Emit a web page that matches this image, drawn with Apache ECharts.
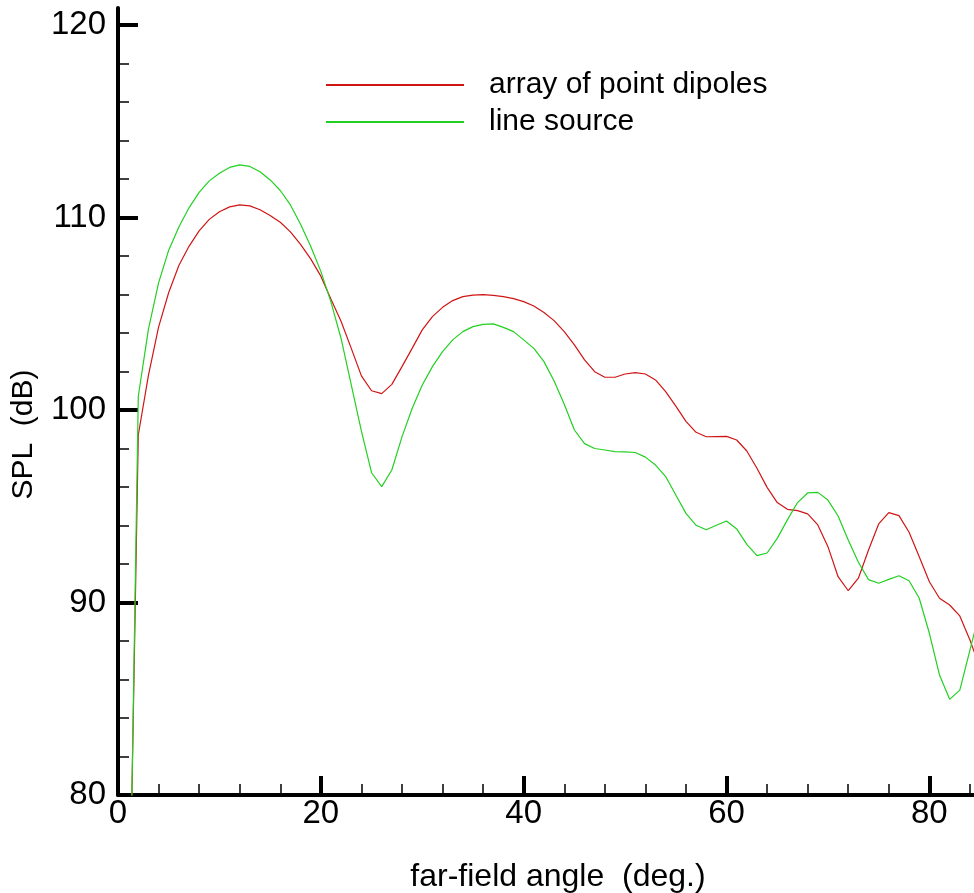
<!DOCTYPE html>
<html>
<head>
<meta charset="utf-8">
<script src="https://cdn.jsdelivr.net/npm/echarts@6.0.0/dist/echarts.min.js"></script>
<style>
  html, body { margin: 0; padding: 0; background: #fff; }
  #chart { width: 974px; height: 893px; }
</style>
</head>
<body>
<div id="chart"></div>
<script>
// far-field angle, one point per degree
const angles = [
  1, 2, 3, 4, 5, 6, 7, 8, 9, 10, 11, 12, 13, 14, 15, 16, 17, 18, 19, 20,
  21, 22, 23, 24, 25, 26, 27, 28, 29, 30, 31, 32, 33, 34, 35, 36, 37, 38, 39, 40,
  41, 42, 43, 44, 45, 46, 47, 48, 49, 50, 51, 52, 53, 54, 55, 56, 57, 58, 59, 60,
  61, 62, 63, 64, 65, 66, 67, 68, 69, 70, 71, 72, 73, 74, 75, 76, 77, 78, 79, 80,
  81, 82, 83, 84, 85
];

const pointDipoles = [
  69.0, 98.7, 101.8, 104.3, 106.1, 107.5, 108.5, 109.3, 109.9, 110.3,
  110.55, 110.65, 110.6, 110.4, 110.1, 109.75, 109.25, 108.6, 107.85, 106.95,
  105.75, 104.6, 103.2, 101.77, 101.0, 100.85, 101.33, 102.25, 103.2, 104.16,
  104.85, 105.33, 105.68, 105.89, 105.97, 105.99, 105.95, 105.89, 105.78, 105.63,
  105.4, 105.06, 104.64, 104.07, 103.38, 102.6, 101.99, 101.7, 101.7, 101.87,
  101.94, 101.87, 101.56, 100.95, 100.2, 99.41, 98.84, 98.61, 98.62, 98.63,
  98.44, 97.87, 96.97, 95.98, 95.19, 94.84, 94.77, 94.6, 94.03, 92.9,
  91.34, 90.61, 91.26, 92.73, 94.08, 94.67, 94.51, 93.65, 92.38, 91.08,
  90.22, 89.87, 89.3, 88.05, 86.6
];

const lineSource = [
  68.0, 100.7, 104.2, 106.6, 108.3, 109.5, 110.5, 111.3, 111.9, 112.3,
  112.6, 112.73, 112.65, 112.37, 111.95, 111.4, 110.65, 109.65, 108.5, 107.2,
  105.6, 103.7, 101.3, 98.9, 96.74, 96.02, 96.88, 98.6, 100.08, 101.3,
  102.25, 103.03, 103.64, 104.07, 104.33, 104.45, 104.47, 104.29, 104.07, 103.64,
  103.2, 102.51, 101.5, 100.3, 98.96, 98.25, 98.0, 97.92, 97.84, 97.82,
  97.79, 97.55, 97.14, 96.54, 95.58, 94.63, 94.01, 93.78, 94.01, 94.23,
  93.82, 93.02, 92.43, 92.57, 93.33, 94.29, 95.19, 95.69, 95.72, 95.32,
  94.49, 93.25, 92.09, 91.19, 91.0, 91.2, 91.39, 91.13, 90.22, 88.4,
  86.23, 84.97, 85.45, 87.53, 89.6
];

const xMajorTicks = [0, 20, 40, 60, 80];
const xMinorTicks = [4, 8, 12, 16, 24, 28, 32, 36, 44, 48, 52, 56, 64, 68, 72, 76, 84];
const yMajorTicks = [80, 90, 100, 110, 120];
const yMinorTicks = [82, 84, 86, 88, 92, 94, 96, 98, 102, 104, 106, 108, 112, 114, 116, 118];

const font = "'Liberation Sans', Arial, sans-serif";

const chart = echarts.init(document.getElementById("chart"));

const zip = (xs, ys) => xs.map((x, i) => [x, ys[i]]);

const option = {
  animation: false,
  backgroundColor: "#fff",
  grid: {
    left: 118,
    right: 0,
    top: 8,
    bottom: 98,
    containLabel: false,
    outerBoundsMode: "none"
  },
  legend: {
    orient: "vertical",
    left: 320,
    top: 62,
    itemWidth: 138,
    itemHeight: 36,
    itemGap: 1,
    // hide the symbol dot, keep only the line sample
    itemStyle: { opacity: 0 },
    textStyle: {
      fontFamily: font,
      fontSize: 30,
      color: "#000",
      lineHeight: 36,
      padding: [0, 0, 0, 20]
    },
    data: ["array of point dipoles", "line source"]
  },
  xAxis: [
    {
      type: "value",
      position: "bottom",
      min: 0,
      max: 84.4,
      name: "far-field angle  (deg.)",
      nameLocation: "middle",
      nameGap: 66,
      nameTextStyle: {
        fontFamily: font,
        fontSize: 32,
        color: "#000",
        lineHeight: 33,
        padding: [0, 0, 0, 24]
      },
      axisLine: { show: true, lineStyle: { color: "#000", width: 4 } },
      axisTick: {
        show: true,
        inside: true,
        length: 19,
        customValues: xMajorTicks,
        lineStyle: { color: "#000", width: 4 }
      },
      axisLabel: {
        customValues: xMajorTicks,
        margin: 2,
        fontFamily: font,
        fontSize: 33,
        color: "#000"
      },
      splitLine: { show: false }
    },
    {
      type: "value",
      position: "bottom",
      min: 0,
      max: 84.4,
      axisLine: { show: false },
      axisTick: {
        show: true,
        inside: true,
        length: 11,
        customValues: xMinorTicks,
        lineStyle: { color: "#000", width: 1.5 }
      },
      axisLabel: { show: false },
      splitLine: { show: false }
    }
  ],
  yAxis: [
    {
      type: "value",
      position: "left",
      min: 80,
      max: 120.88,
      name: "SPL  (dB)",
      nameLocation: "middle",
      nameGap: 69,
      nameTextStyle: {
        fontFamily: font,
        fontSize: 30,
        color: "#000",
        lineHeight: 32,
        padding: [0, 66, 0, 0]
      },
      axisLine: { show: true, lineStyle: { color: "#000", width: 4 } },
      axisTick: {
        show: true,
        inside: true,
        length: 20,
        customValues: yMajorTicks,
        lineStyle: { color: "#000", width: 4 }
      },
      axisLabel: {
        customValues: yMajorTicks,
        margin: 12,
        fontFamily: font,
        fontSize: 33,
        color: "#000"
      },
      splitLine: { show: false }
    },
    {
      type: "value",
      position: "left",
      min: 80,
      max: 120.88,
      axisLine: { show: false },
      axisTick: {
        show: true,
        inside: true,
        length: 11,
        customValues: yMinorTicks,
        lineStyle: { color: "#000", width: 1.5 }
      },
      axisLabel: { show: false },
      splitLine: { show: false }
    }
  ],
  series: [
    {
      name: "array of point dipoles",
      type: "line",
      data: zip(angles, pointDipoles),
      symbol: "none",
      clip: true,
      lineStyle: { color: "#d01515", width: 1.2 },
      itemStyle: { color: "#d01515" }
    },
    {
      name: "line source",
      type: "line",
      data: zip(angles, lineSource),
      symbol: "none",
      clip: true,
      lineStyle: { color: "#22d022", width: 1.2 },
      itemStyle: { color: "#22d022" }
    }
  ]
};

chart.setOption(option);
</script>
</body>
</html>
